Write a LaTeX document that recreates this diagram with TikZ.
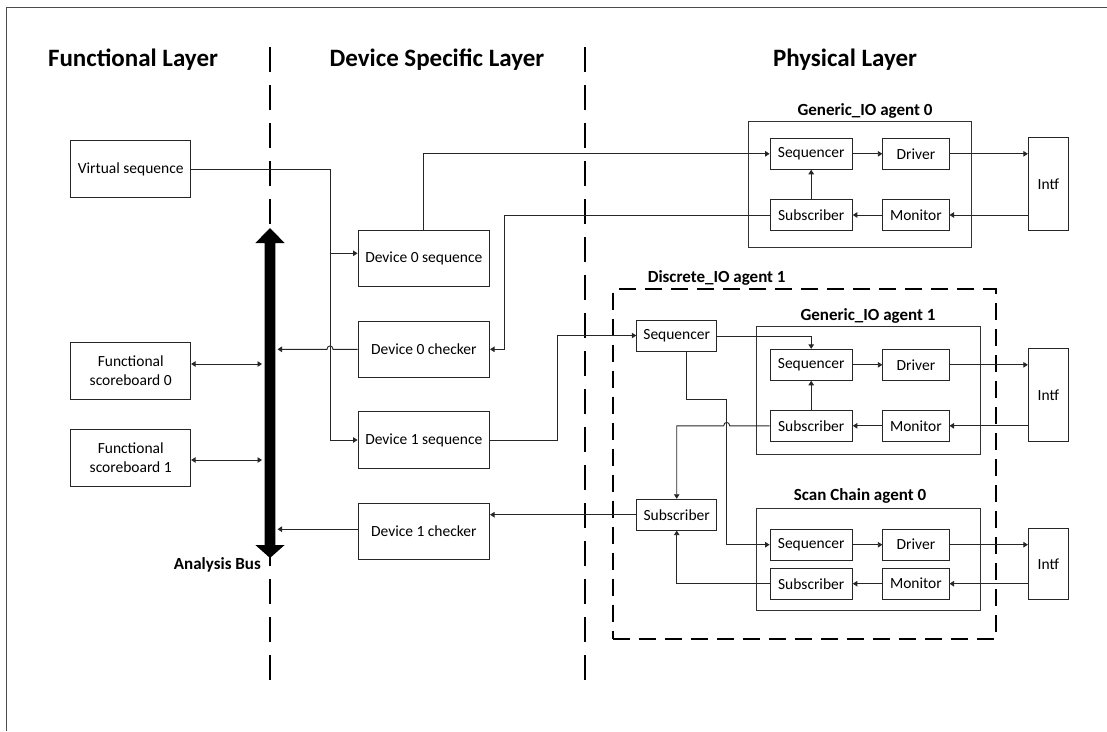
\documentclass[tikz,border=0pt]{standalone}
\usepackage{fontspec}
\setmainfont{Carlito}
\usetikzlibrary{arrows.meta,calc}
\begin{document}
\begin{tikzpicture}[x=1pt,y=-1pt,
  box/.style={draw=black!85, line width=0.9pt, inner sep=0pt, align=center,
              font=\fontsize{15.5}{18.7}\selectfont},
  fbox/.style={box, minimum width=120, minimum height=56.6},
  dbox/.style={box, minimum width=131.6, minimum height=56.5},
  sqbox/.style={box, minimum width=82.3, minimum height=31},
  drbox/.style={box, minimum width=66.3, minimum height=31},
  ibox/.style={box, minimum width=40},
  cont/.style={draw=black!80, line width=0.9pt, inner sep=0pt},
  discbox/.style={draw=black, line width=2pt, dash pattern=on 17pt off 9pt, inner sep=0pt},
  layertitle/.style={font=\fontsize{25}{30}\selectfont\bfseries, inner sep=0pt},
  agtitle/.style={font=\fontsize{17}{20}\selectfont\bfseries, inner sep=0pt},
  layerline/.style={draw=black, line width=1.1pt, dash pattern=on 25pt off 13pt},
  conn/.style={draw=black!85, line width=0.9pt, -{Triangle[length=4.5pt,width=5.5pt]}},
  dconn/.style={draw=black!85, line width=0.9pt, {Triangle[length=4.5pt,width=5.5pt]}-{Triangle[length=4.5pt,width=5.5pt]}},
  framel/.style={draw=black!70, line width=1.2pt}
]
\useasboundingbox (0,0) rectangle (1107,731);

% frame
\draw[framel] (1107,7.3) -- (6.7,7.3) -- (6.7,731);

% layer titles
\node[layertitle] (tfun) at (133,60) {Functional Layer};
\node[layertitle] (tdev) at (437,60) {Device Specific Layer};
\node[layertitle] (tphy) at (845,60) {Physical Layer};

% layer separators
\draw[layerline] (270,47) -- (270,683);
\draw[layerline] (585,47) -- (585,683);

% analysis bus
\fill[black] (270,228) -- (284.6,243) -- (275.4,243) -- (275.4,545) -- (284.6,545)
  -- (270,558) -- (255.4,545) -- (264.6,545) -- (264.6,243) -- (255.4,243) -- cycle;
\node[agtitle, anchor=east] (abus) at (261,565) {Analysis Bus};
\coordinate (busL) at (262,0);
\coordinate (busR) at (277.5,0);

% functional layer
\node[fbox] (vs) at (130.7,169) {Virtual sequence};
\node[fbox] (fs0) at (130.7,371) {Functional\\scoreboard 0};
\node[fbox] (fs1) at (130.7,457.7) {Functional\\scoreboard 1};

% device specific layer
\node[dbox] (d0s) at (423.8,258.3) {Device 0 sequence};
\node[dbox] (d0c) at (423.8,349.3) {Device 0 checker};
\node[dbox] (d1s) at (423.8,440) {Device 1 sequence};
\node[dbox] (d1c) at (423.8,531.2) {Device 1 checker};

% Generic_IO agent 0
\node[agtitle] (g0t) at (865,110.7) {Generic\_IO agent 0};
\node[cont, minimum width=223.4, minimum height=126.7] (g0) at (860,184.35) {};
\node[sqbox] (g0seq) at (811.2,153.8) {Sequencer};
\node[drbox] (g0drv) at (915.9,153.8) {Driver};
\node[sqbox] (g0sub) at (811.2,215) {Subscriber};
\node[drbox] (g0mon) at (915.9,215) {Monitor};
\node[ibox, minimum height=92.3] (intf0) at (1048.3,183.9) {Intf};

% Discrete_IO agent 1
\node[agtitle] (dt) at (716.7,278) {Discrete\_IO agent 1};
\node[discbox, minimum width=382.4, minimum height=350] (disc) at (804.5,464.3) {};
\node[box, minimum width=80, minimum height=31] (dseq) at (676.7,335.5) {Sequencer};
\node[box, minimum width=80, minimum height=31] (dsub) at (676.7,514.7) {Subscriber};

% Generic_IO agent 1
\node[agtitle] (g1t) at (868,316) {Generic\_IO agent 1};
\node[cont, minimum width=223.3, minimum height=127.3] (g1) at (868.35,390.35) {};
\node[sqbox] (g1seq) at (811.2,364.8) {Sequencer};
\node[drbox] (g1drv) at (915.9,364.8) {Driver};
\node[sqbox] (g1sub) at (811.2,425.8) {Subscriber};
\node[drbox] (g1mon) at (915.9,425.8) {Monitor};
\node[ibox, minimum height=93] (intf1) at (1048.3,394.8) {Intf};

% Scan Chain agent 0
\node[agtitle] (sct) at (860,496) {Scan Chain agent 0};
\node[cont, minimum width=223.3, minimum height=101.3] (sc) at (868.35,559.35) {};
\node[sqbox] (scseq) at (811.2,544.7) {Sequencer};
\node[drbox] (scdrv) at (915.9,544.7) {Driver};
\node[sqbox] (scsub) at (811.2,583.7) {Subscriber};
\node[drbox] (scmon) at (915.9,583.7) {Monitor};
\node[ibox, minimum height=70.3] (intf2) at (1048.3,563.9) {Intf};

% helper coordinates
\coordinate (vx) at (330,0);
\coordinate (d0in) at ($(d0s.west)+(0,-5)$);
\coordinate (c3) at (504.6,0);
\coordinate (c5) at (557,0);
\coordinate (c7) at (726.7,399.3);

% virtual sequence to device sequences
\draw[conn] (vs.east) -| (vx |- d1s.west) -- (d1s.west);
\draw[conn] (vx |- d0in) -- (d0in);

% functional scoreboards <-> bus
\draw[dconn] ($(fs0.east)+(0,-7)$) -- ($(fs0.east -| busL)+(0,-7)$);
\draw[dconn] ($(fs1.east)+(0,2.3)$) -- ($(fs1.east -| busL)+(0,2.3)$);

% checkers to bus
\draw[conn] (d0c.west) -- ($(d0c.west -| vx)+(3,0)$)
  .. controls +(0,-4.5) and +(0,-4.5) .. ($(d0c.west -| vx)+(-3,0)$) -- (d0c.west -| busR);
\draw[conn] ($(d1c.west)+(0,-2)$) -- ($(d1c.west -| busR)+(0,-2)$);

% device 0
\draw[conn] (d0s.north) |- (g0seq.west);
\draw[conn] (g0sub.west) -- (g0sub.west -| c3) |- (d0c.east);

% device 1
\draw[conn] (d1s.east) -| (c5 |- dseq.west) -- (dseq.west);
\draw[conn] (dsub.west) -- (dsub.west -| d1c.east);

% discrete agent internals
\draw[conn] ($(dseq.east)+(0,1)$) -| (g1seq.north);
\draw[conn] ($(dseq.south)+(9.3,0)$) |- (c7) |- (scseq.west);
\draw[conn] (g1sub.west) -- ($(g1sub.west -| c7)+(3,0)$)
  .. controls +(0,-4.5) and +(0,-4.5) .. ($(g1sub.west -| c7)+(-3,0)$) -| (dsub.north);
\draw[conn] (scsub.west) -| (dsub.south);

% agent internals
\foreach \a/\i in {g0/intf0, g1/intf1, sc/intf2} {
  \draw[conn] (\a seq.east) -- (\a drv.west);
  \draw[conn] (\a drv.east) -- (\a drv.east -| \i.west);
  \draw[conn] (\i.west |- \a mon.east) -- (\a mon.east);
  \draw[conn] (\a mon.west) -- (\a sub.east);
}
\draw[conn] (g0sub.north) -- (g0seq.south);
\draw[conn] (g1sub.north) -- (g1seq.south);

\end{tikzpicture}
\end{document}
